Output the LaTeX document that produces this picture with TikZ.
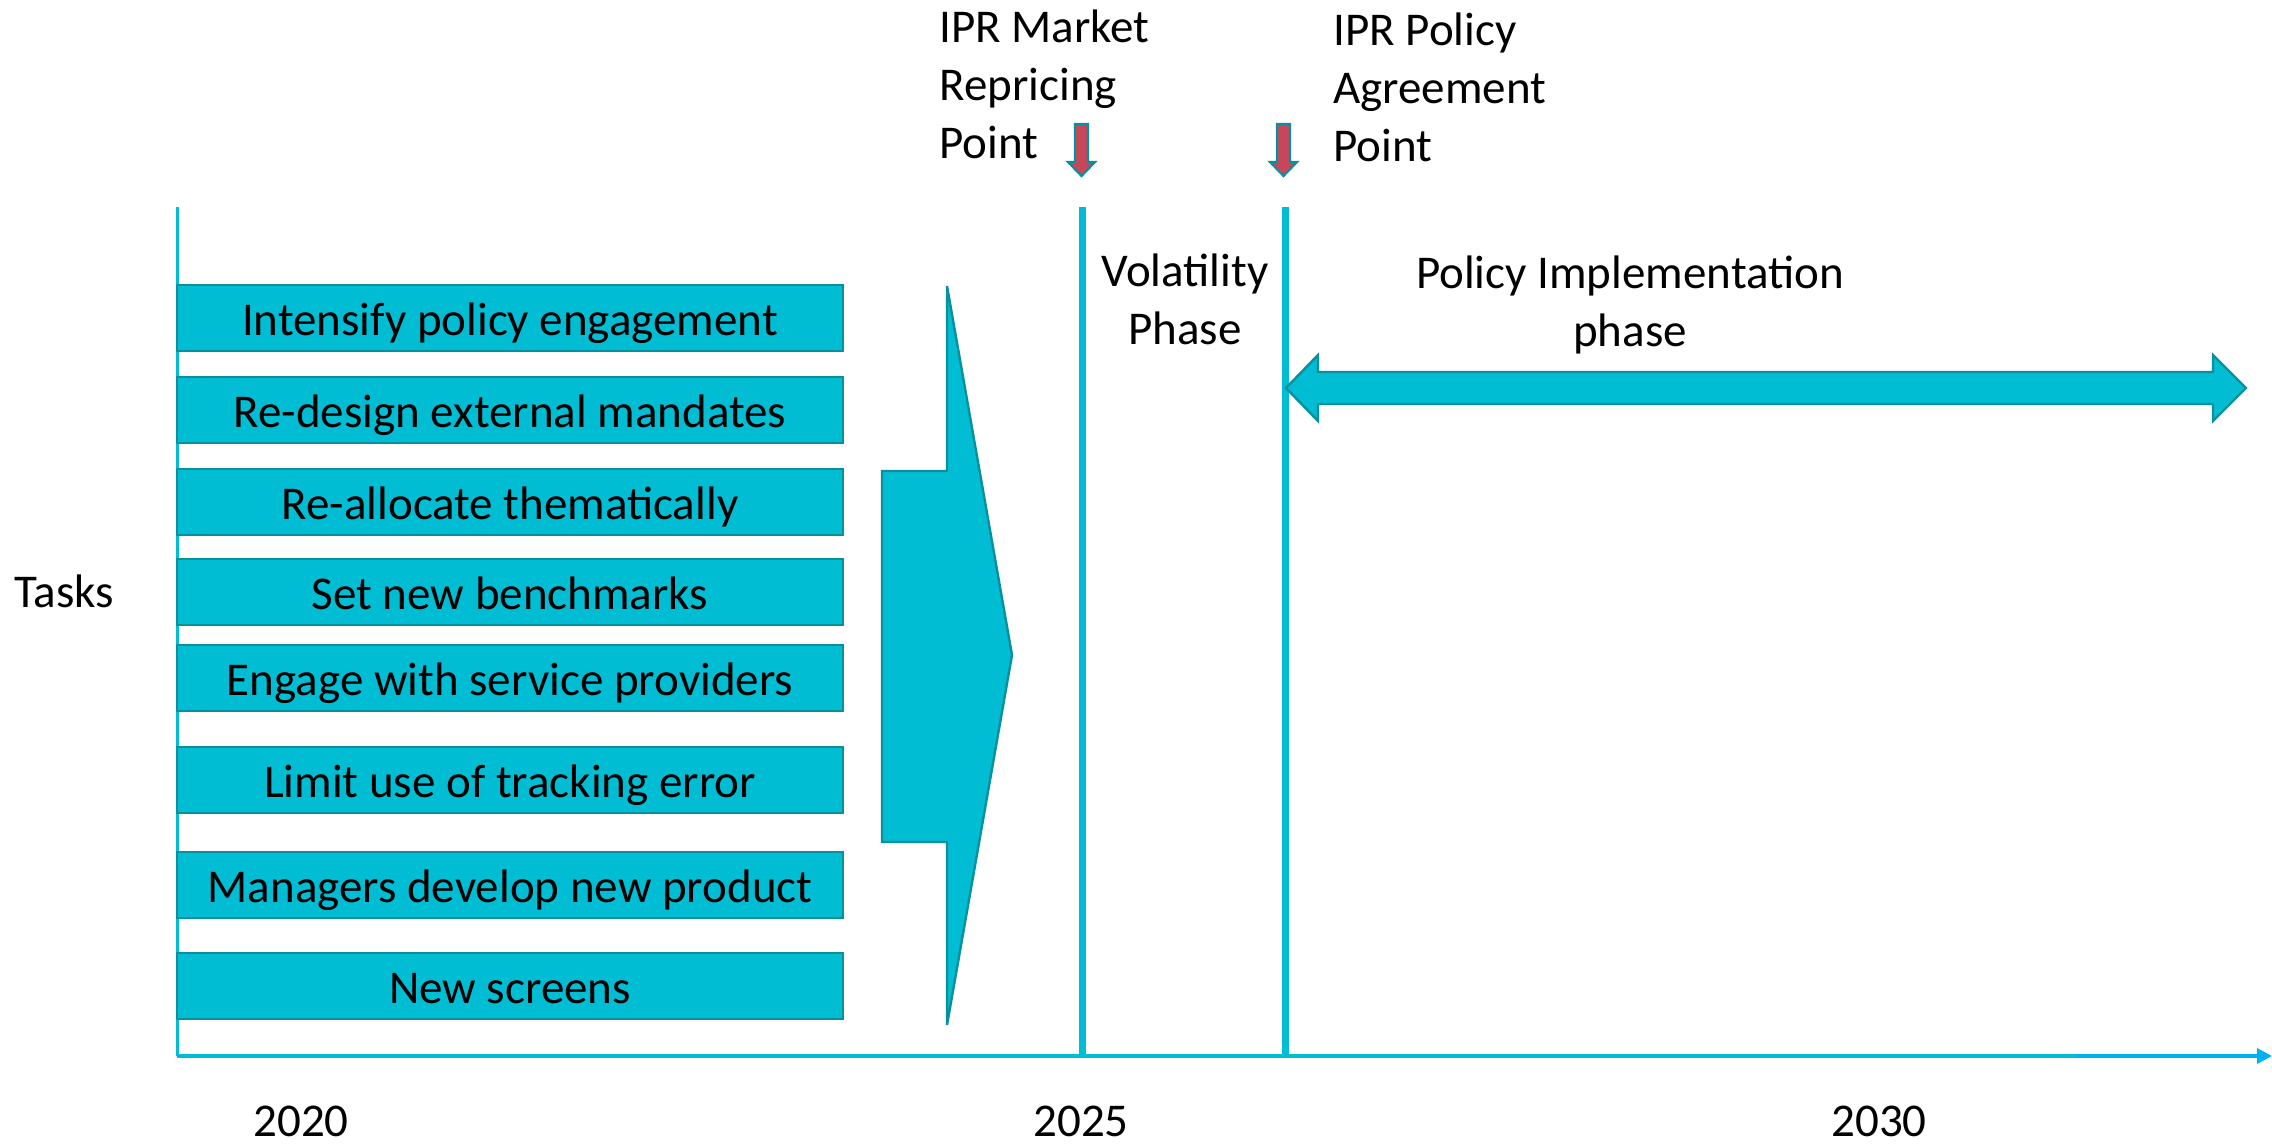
\documentclass[tikz,border=0pt]{standalone}
\usepackage{fontspec}
\setmainfont{Carlito}
\usetikzlibrary{arrows.meta}
\definecolor{tealfill}{HTML}{00BDD3}
\definecolor{tealdark}{HTML}{08909E}
\definecolor{axisblue}{HTML}{00B0F0}
\definecolor{redfill}{HTML}{C8465A}
\begin{document}
\begin{tikzpicture}[x=0.5pt,y=-0.5pt,
  taskbox/.style={draw=tealdark, fill=tealfill, line width=1.3pt, minimum width=333pt, minimum height=33pt,
    inner sep=0pt, outer sep=0pt, text height=17pt, text depth=0pt, font=\fontsize{23.5}{28}\selectfont},
  lbl/.style={inner sep=0pt, font=\fontsize{23.5}{29}\selectfont},
  shapefill/.style={draw=tealdark, fill=tealfill, line width=1.2pt, line join=miter},
  redarrow/.style={draw=tealdark, fill=redfill, line width=1.1pt, line join=miter},
  phaseline/.style={draw=tealfill, line width=3.5pt}]
\useasboundingbox (0,0) rectangle (2272,1145);
\fill[white] (0,0) rectangle (2272,1145);

% axes
\coordinate (O) at (177,1056);
\coordinate (Ytop) at (177,207);
\coordinate (Xmid) at (2075,1056);
\coordinate (Xend) at (2272,1056);
\draw[tealfill, line width=1.5pt] (O) -- (Ytop);
\draw[tealfill, line width=1.7pt] (O) -- (Xmid);
\draw[axisblue, line width=1.7pt, -{Triangle[length=7.5pt,width=7.5pt]}] (Xmid) -- (Xend);

% phase lines
\coordinate (L1t) at (1082,207);
\coordinate (L1b) at (1082,1056);
\coordinate (L2t) at (1285,207);
\coordinate (L2b) at (1285,1056);
\draw[phaseline] (L1t) -- (L1b);
\draw[phaseline] (L2t) -- (L2b);

% task boxes
\node[taskbox] (t1) at (510,318) {Intensify policy engagement};
\node[taskbox] (t2) at (510,410) {Re-design external mandates};
\node[taskbox] (t3) at (510,502) {Re-allocate thematically};
\node[taskbox] (t4) at (510,592) {Set new benchmarks};
\node[taskbox] (t5) at (510,678) {Engage with service providers};
\node[taskbox] (t6) at (510,780) {Limit use of tracking error};
\node[taskbox] (t7) at (510,885) {Managers develop new product};
\node[taskbox] (t8) at (510,986) {New screens};

% big block arrow
\draw[shapefill] (882,471) -- (947,471) -- (947,286) -- (1012,655) -- (947,1025) -- (947,842) -- (882,842) -- cycle;

% double arrow
\draw[shapefill] (1286,388) -- (1318,355) -- (1318,372) -- (2213,372) -- (2213,355) -- (2246,388)
  -- (2213,421) -- (2213,404) -- (1318,404) -- (1318,421) -- cycle;

% red arrows
\draw[redarrow] (1075,124) -- (1088,124) -- (1088,162) -- (1095,162) -- (1081.5,176) -- (1068,162) -- (1075,162) -- cycle;
\draw[redarrow] (1277,124) -- (1290,124) -- (1290,162) -- (1297,162) -- (1283.5,176) -- (1270,162) -- (1277,162) -- cycle;

% labels
\node[lbl, anchor=west, align=left] (ipr1) at (939,84) {IPR Market\\Repricing\\Point};
\node[lbl, anchor=west, align=left] (ipr2) at (1333,87) {IPR Policy\\Agreement\\Point};
\node[lbl, align=center] (vol) at (1185,299) {Volatility\\Phase};
\node[lbl, align=center] (impl) at (1630,305) {Policy Implementation\\phase};
\node[lbl] (tasks) at (64,591) {Tasks};
\node[lbl] (y20) at (301,1121) {2020};
\node[lbl] (y25) at (1081,1121) {2025};
\node[lbl] (y30) at (1879,1121) {2030};
\end{tikzpicture}
\end{document}
